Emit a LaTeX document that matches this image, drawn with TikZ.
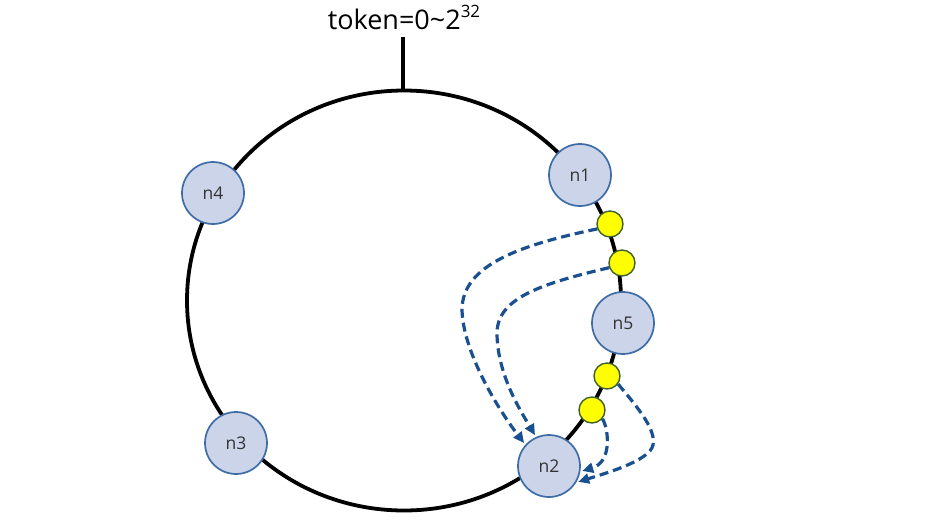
\documentclass[tikz,border=0pt]{standalone}
\usepackage{fontspec}
\setmainfont{Open Sans}
\usetikzlibrary{arrows.meta}
\definecolor{nodefill}{HTML}{CBD4E9}
\definecolor{nodeedge}{HTML}{3E6CA6}
\definecolor{keyfill}{HTML}{FFFF00}
\definecolor{keyedge}{HTML}{3F6130}
\definecolor{flow}{HTML}{1B5090}
\definecolor{labeltext}{HTML}{333333}
\begin{document}
\begin{tikzpicture}[x=1pt,y=-1pt,
  server/.style={circle, draw=nodeedge, fill=nodefill, line width=1.7pt,
    minimum size=62pt, inner sep=0pt, font=\fontsize{17.5}{19}\selectfont, text=labeltext},
  vnode/.style={circle, draw=keyedge, fill=keyfill, line width=1.4pt,
    minimum size=26pt, inner sep=0pt},
  move/.style={draw=flow, line width=3.2pt, dash pattern=on 9pt off 5pt,
    -{Triangle[length=11pt,width=10pt]}, shorten >=2pt},
  ring/.style={line width=3.8pt}]
\useasboundingbox (0,0) rectangle (932,520);

% token ring and its label
\draw[ring] (404,300.5) ellipse [x radius=217pt, y radius=210pt];
\node[font=\fontsize{27}{30}\selectfont, anchor=base, inner sep=0pt] (title) at (404,29)
  {token=0\textasciitilde2\raisebox{0.42em}{\fontsize{17}{19}\selectfont 32}};
\coordinate (stem) at (403,37);
\coordinate (ringtop) at (403,92);
\draw[ring] (stem) -- (ringtop);

% physical nodes
\node[server] (n1) at (580,175) {n1};
\node[server] (n5) at (623,323) {n5};
\node[server] (n2) at (549,466) {n2};
\node[server] (n3) at (236,443) {n3};
\node[server] (n4) at (213,193) {n4};

% keys on the ring
\node[vnode] (k1) at (610,224) {};
\node[vnode] (k2) at (622,263) {};
\node[vnode] (k3) at (607,376) {};
\node[vnode] (k4) at (592,410) {};

% keys moving to n2
\draw[move] (k1.201) .. controls (520,245) and (462,265) .. (462,310)
  .. controls (463,350) and (495,405) .. (n2.138);
\draw[move] (k2.200) .. controls (535,285) and (496,300) .. (497,335)
  .. controls (498,375) and (520,410) .. (n2.114);
\draw[move] (k3.-36) .. controls (640,410) and (656,430) .. (653,445)
  .. controls (650,460) and (610,472) .. (n2.-31);
\draw[move] (k4.-40) .. controls (609,430) and (612,462) .. (n2.-10);
\end{tikzpicture}
\end{document}
